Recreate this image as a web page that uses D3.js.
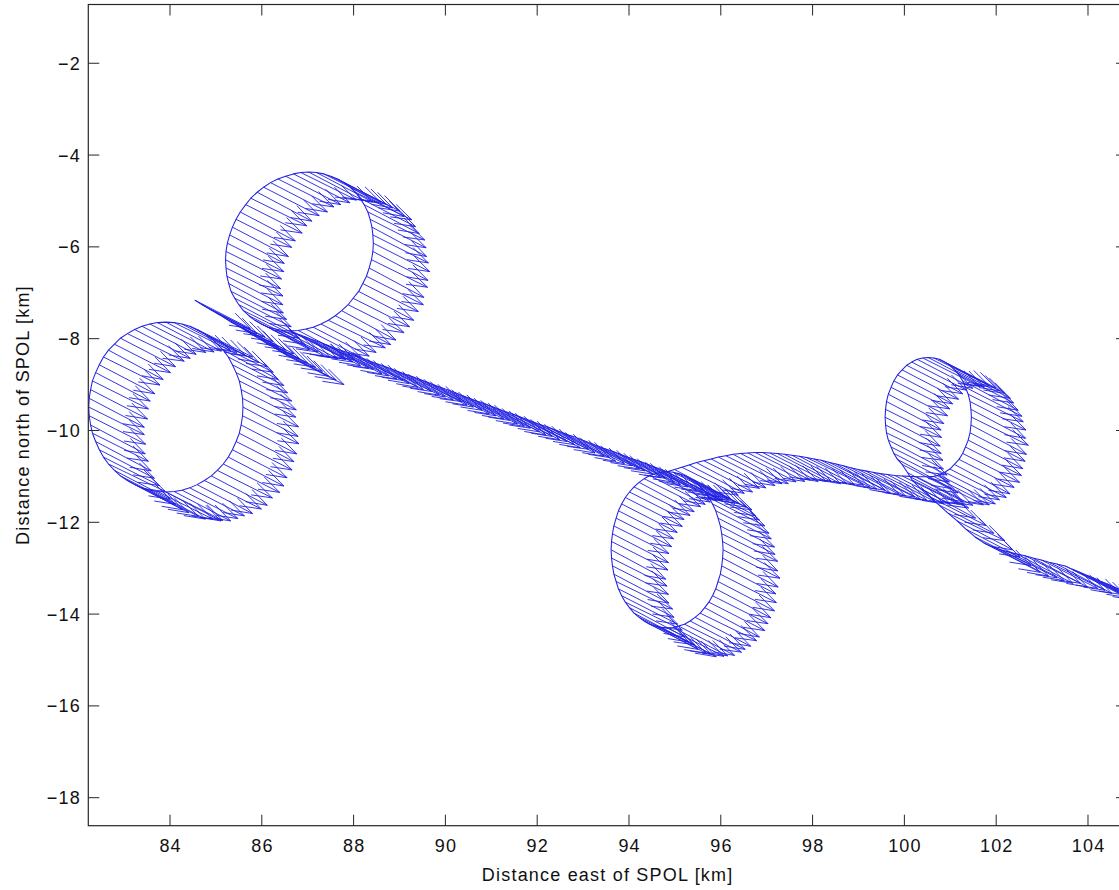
<!DOCTYPE html>
<html><head><meta charset="utf-8">
<script src="https://cdn.jsdelivr.net/npm/d3@7"></script>
<style>
html,body{margin:0;padding:0;background:#fff;}
svg{display:block;}
text{font-family:"Liberation Sans",Arial,Helvetica,sans-serif;fill:#111;}
</style></head><body>
<svg id="chart" width="1119" height="890"></svg>
<script>
// ---------------- data (km east / km north of SPOL, wind in m/s) ----------------
const xTicks = [84,86,88,90,92,94,96,98,100,102,104];
const yTicks = [-2,-4,-6,-8,-10,-12,-14,-16,-18];
const xTitle = "Distance east of SPOL [km]";
const yTitle = "Distance north of SPOL [km]";

// short initial track north-west of the figure eight
const startX = [84.54,84.70,84.85,85.01,85.16,85.32,85.48,85.63,85.79,85.94,86.10,86.26,86.41,86.57];
const startY = [-7.16,-7.26,-7.35,-7.44,-7.53,-7.63,-7.72,-7.81,-7.91,-8.00,-8.10,-8.19,-8.28,-8.38];
const startU = [12.1,12.0,12.2,12.3,11.9,12.1,12.2,12.0,12.1,12.3,12.2,12.0,12.1,12.2];
const startV = [-6.2,-6.3,-6.1,-6.2,-6.4,-6.2,-6.1,-6.3,-6.2,-6.2,-6.1,-6.3,-6.2,-6.2];

// lower loop of the figure eight
const loop2X = [83.91,83.73,83.56,83.39,83.23,83.07,82.92,82.79,82.66,82.55,
82.46,82.38,82.31,82.27,82.24,82.23,82.24,82.27,82.31,82.38,
82.46,82.55,82.66,82.79,82.92,83.07,83.23,83.39,83.56,83.73,
83.91,84.09,84.26,84.43,84.59,84.75,84.90,85.03,85.16,85.27,
85.36,85.44,85.51,85.55,85.58,85.59,85.58,85.55,85.51,85.44,
85.36,85.27,85.16,85.03,84.90,84.75,84.59,84.43,84.26,84.09,83.91];
const loop2Y = [-11.34,-11.33,-11.30,-11.25,-11.18,-11.09,-10.99,-10.87,-10.73,-10.58,
-10.42,-10.24,-10.06,-9.88,-9.68,-9.49,-9.30,-9.11,-8.92,-8.74,
-8.57,-8.40,-8.25,-8.12,-7.99,-7.89,-7.80,-7.73,-7.68,-7.65,
-7.64,-7.65,-7.68,-7.73,-7.80,-7.89,-7.99,-8.12,-8.25,-8.40,
-8.57,-8.74,-8.92,-9.11,-9.30,-9.49,-9.68,-9.88,-10.06,-10.24,
-10.42,-10.58,-10.73,-10.87,-10.99,-11.09,-11.18,-11.25,-11.30,-11.33,-11.34];
const loop2U = [12.4,12.0,12.1,12.3,11.8,12.2,12.0,12.1,12.4,12.2,
12.0,12.1,12.2,11.9,12.3,12.1,12.0,12.4,12.2,11.9,
12.1,12.3,11.9,12.2,12.0,12.4,12.1,11.8,12.2,12.3,
12.1,12.3,12.0,12.2,12.1,11.9,12.3,12.2,12.0,12.1,
12.0,12.1,12.4,11.9,12.2,12.0,12.3,12.1,11.9,12.2,
11.9,12.1,12.3,12.0,12.2,12.4,12.1,11.9,12.2,12.3,12.0];
const loop2V = [-6.2,-6.0,-6.3,-6.2,-6.1,-6.4,-6.2,-6.3,-6.0,-6.2,
-6.2,-6.4,-6.1,-6.3,-6.2,-6.0,-6.3,-6.4,-6.1,-6.2,
-6.3,-6.1,-6.4,-6.2,-6.2,-6.0,-6.3,-6.1,-6.2,-6.4,
-6.3,-6.1,-6.2,-6.4,-6.0,-6.3,-6.2,-6.1,-6.4,-6.2,
-6.1,-6.2,-6.3,-6.0,-6.2,-6.4,-6.1,-6.3,-6.2,-6.2,
-6.1,-6.3,-6.2,-6.0,-6.4,-6.2,-6.3,-6.1,-6.2,-6.4,-6.3];

// upper loop of the figure eight (flown anticlockwise, leaves heading east)
const loop1X = [86.62,86.79,86.96,87.12,87.29,87.45,87.60,87.74,87.88,87.99,
88.11,88.20,88.28,88.34,88.39,88.42,88.43,88.42,88.40,88.36,
88.31,88.23,88.14,88.04,87.92,87.79,87.65,87.50,87.35,87.19,
87.02,86.85,86.69,86.52,86.35,86.19,86.04,85.90,85.76,85.65,
85.53,85.44,85.36,85.30,85.25,85.22,85.21,85.22,85.24,85.28,
85.33,85.41,85.50,85.60,85.72,85.85,85.99,86.14,86.30,86.45,86.62];
const loop1Y = [-7.83,-7.82,-7.79,-7.75,-7.68,-7.60,-7.50,-7.39,-7.26,-7.12,
-6.97,-6.80,-6.64,-6.46,-6.28,-6.10,-5.92,-5.74,-5.57,-5.40,
-5.24,-5.08,-4.94,-4.81,-4.70,-4.60,-4.52,-4.46,-4.41,-4.38,
-4.37,-4.38,-4.41,-4.46,-4.52,-4.60,-4.70,-4.81,-4.94,-5.08,
-5.24,-5.40,-5.57,-5.74,-5.92,-6.10,-6.28,-6.46,-6.64,-6.80,
-6.97,-7.12,-7.26,-7.39,-7.50,-7.60,-7.68,-7.75,-7.79,-7.82,-7.83];
const loop1U = [12.1,12.3,11.9,12.2,12.0,12.4,12.1,11.8,12.2,12.3,
12.0,12.1,12.4,11.9,12.2,12.0,12.3,12.1,11.9,12.2,
12.4,12.0,12.1,12.3,11.8,12.2,12.0,12.1,12.4,12.2,
11.9,12.1,12.3,12.0,12.2,12.4,12.1,11.9,12.2,12.3,
12.0,12.1,12.2,11.9,12.3,12.1,12.0,12.4,12.2,11.9,
12.1,12.3,12.0,12.2,12.1,11.9,12.3,12.2,12.0,12.1,12.1];
const loop1V = [-6.2,-6.4,-6.1,-6.3,-6.2,-6.0,-6.3,-6.4,-6.1,-6.2,
-6.3,-6.1,-6.2,-6.4,-6.0,-6.3,-6.2,-6.1,-6.4,-6.2,
-6.1,-6.3,-6.2,-6.0,-6.4,-6.2,-6.3,-6.1,-6.2,-6.4,
-6.2,-6.0,-6.3,-6.2,-6.1,-6.4,-6.2,-6.3,-6.0,-6.2,
-6.3,-6.1,-6.4,-6.2,-6.2,-6.0,-6.3,-6.1,-6.2,-6.4,
-6.1,-6.2,-6.3,-6.0,-6.2,-6.4,-6.1,-6.3,-6.2,-6.2,-6.2];

// long leg towards the third loop
const legX = [86.78,86.94,87.09,87.25,87.40,87.56,87.71,87.87,88.02,88.18,
88.33,88.49,88.64,88.80,88.95,89.11,89.26,89.42,89.58,89.73,
89.89,90.04,90.20,90.35,90.51,90.66,90.82,90.97,91.13,91.28,
91.44,91.59,91.75,91.90,92.06,92.22,92.37,92.53,92.68,92.84,
92.99,93.15,93.30,93.46,93.61,93.77,93.92,94.08,94.23,94.39,
94.54,94.70];
const legY = [-7.90,-7.96,-8.02,-8.07,-8.13,-8.19,-8.25,-8.30,-8.36,-8.42,
-8.48,-8.54,-8.59,-8.65,-8.71,-8.77,-8.82,-8.88,-8.94,-9.00,
-9.06,-9.11,-9.17,-9.23,-9.29,-9.35,-9.40,-9.46,-9.52,-9.58,
-9.63,-9.69,-9.75,-9.81,-9.87,-9.92,-9.98,-10.04,-10.10,-10.15,
-10.21,-10.27,-10.33,-10.39,-10.44,-10.50,-10.56,-10.62,-10.67,-10.73,
-10.79,-10.85];
const legU = [12.0,12.1,12.4,11.9,12.2,12.0,12.3,12.1,11.9,12.2,
11.9,12.1,12.3,12.0,12.2,12.4,12.1,11.9,12.2,12.3,
12.1,12.3,12.0,12.2,12.1,11.9,12.3,12.2,12.0,12.1,
12.1,12.3,11.9,12.2,12.0,12.4,12.1,11.8,12.2,12.3,
12.4,12.0,12.1,12.3,11.8,12.2,12.0,12.1,12.4,12.2,
12.0,12.1];
const legV = [-6.1,-6.3,-6.2,-6.0,-6.4,-6.2,-6.3,-6.1,-6.2,-6.4,
-6.3,-6.1,-6.4,-6.2,-6.2,-6.0,-6.3,-6.1,-6.2,-6.4,
-6.2,-6.4,-6.1,-6.3,-6.2,-6.0,-6.3,-6.4,-6.1,-6.2,
-6.1,-6.2,-6.3,-6.0,-6.2,-6.4,-6.1,-6.3,-6.2,-6.2,
-6.3,-6.1,-6.2,-6.4,-6.0,-6.3,-6.2,-6.1,-6.4,-6.2,
-6.2,-6.0];

// third loop
const loop3X = [94.83,94.96,95.08,95.21,95.33,95.44,95.55,95.65,95.74,95.82,
95.89,95.94,95.99,96.02,96.04,96.05,96.04,96.02,95.99,95.94,
95.89,95.82,95.74,95.65,95.55,95.44,95.33,95.21,95.08,94.96,
94.83,94.70,94.58,94.45,94.33,94.22,94.11,94.01,93.92,93.84,
93.77,93.72,93.67,93.64,93.62,93.61,93.62,93.64,93.67,93.72,
93.77,93.84,93.92,94.01,94.11,94.22,94.33,94.45,94.58,94.70,94.83];
const loop3Y = [-10.90,-10.91,-10.94,-10.98,-11.05,-11.13,-11.23,-11.34,-11.46,-11.60,
-11.75,-11.91,-12.08,-12.25,-12.42,-12.60,-12.78,-12.95,-13.13,-13.29,
-13.45,-13.60,-13.74,-13.86,-13.98,-14.07,-14.15,-14.22,-14.26,-14.29,
-14.30,-14.29,-14.26,-14.22,-14.15,-14.07,-13.98,-13.86,-13.74,-13.60,
-13.45,-13.29,-13.13,-12.95,-12.78,-12.60,-12.42,-12.25,-12.08,-11.91,
-11.75,-11.60,-11.46,-11.34,-11.23,-11.13,-11.05,-10.98,-10.94,-10.91,-10.90];
const loop3U = [11.9,12.1,12.3,12.0,12.2,12.4,12.1,11.9,12.2,12.3,
12.1,12.3,11.9,12.2,12.0,12.4,12.1,11.8,12.2,12.3,
12.0,12.1,12.2,11.9,12.3,12.1,12.0,12.4,12.2,11.9,
12.4,12.0,12.1,12.3,11.8,12.2,12.0,12.1,12.4,12.2,
12.1,12.3,12.0,12.2,12.1,11.9,12.3,12.2,12.0,12.1,
12.0,12.1,12.4,11.9,12.2,12.0,12.3,12.1,11.9,12.2,12.2];
const loop3V = [-6.3,-6.1,-6.4,-6.2,-6.2,-6.0,-6.3,-6.1,-6.2,-6.4,
-6.1,-6.3,-6.2,-6.0,-6.4,-6.2,-6.3,-6.1,-6.2,-6.4,
-6.3,-6.1,-6.2,-6.4,-6.0,-6.3,-6.2,-6.1,-6.4,-6.2,
-6.2,-6.4,-6.1,-6.3,-6.2,-6.0,-6.3,-6.4,-6.1,-6.2,
-6.2,-6.0,-6.3,-6.2,-6.1,-6.4,-6.2,-6.3,-6.0,-6.2,
-6.1,-6.2,-6.3,-6.0,-6.2,-6.4,-6.1,-6.3,-6.2,-6.2,-6.2];

// leg between the third and fourth loops
const leg2X = [94.99,95.15,95.31,95.47,95.63,95.79,95.95,96.11,96.27,96.43,
96.59,96.75,96.91,97.07,97.23,97.39,97.55,97.71,97.87,98.03,
98.19,98.35,98.51,98.67,98.83,98.99,99.15,99.31,99.47,99.63,
99.79,99.95,100.11,100.27];
const leg2Y = [-10.85,-10.80,-10.75,-10.70,-10.66,-10.62,-10.58,-10.55,-10.52,-10.50,
-10.49,-10.48,-10.48,-10.49,-10.50,-10.52,-10.54,-10.56,-10.59,-10.62,
-10.65,-10.69,-10.73,-10.77,-10.81,-10.85,-10.88,-10.91,-10.94,-10.96,
-10.98,-10.99,-11.00,-11.01];
const leg2U = [12.1,12.3,12.0,12.2,12.1,11.9,12.3,12.2,12.0,12.1,
12.4,12.0,12.1,12.3,11.8,12.2,12.0,12.1,12.4,12.2,
12.1,12.3,11.9,12.2,12.0,12.4,12.1,11.8,12.2,12.3,
12.1,12.3,12.0,12.2];
const leg2V = [-6.3,-6.1,-6.2,-6.4,-6.0,-6.3,-6.2,-6.1,-6.4,-6.2,
-6.2,-6.0,-6.3,-6.2,-6.1,-6.4,-6.2,-6.3,-6.0,-6.2,
-6.3,-6.1,-6.4,-6.2,-6.2,-6.0,-6.3,-6.1,-6.2,-6.4,
-6.2,-6.1,-6.3,-6.2];

// fourth loop
const loop4X = [100.52,100.64,100.76,100.88,100.99,101.09,101.19,101.27,101.33,101.39,
101.43,101.45,101.46,101.45,101.43,101.39,101.33,101.27,101.19,101.09,
100.99,100.88,100.76,100.64,100.52,100.40,100.28,100.16,100.05,99.95,
99.85,99.77,99.71,99.65,99.61,99.59,99.58,99.59,99.61,99.65,
99.71,99.77,99.85,99.95];
const loop4Y = [-11.01,-11.00,-10.97,-10.91,-10.84,-10.74,-10.63,-10.50,-10.36,-10.21,
-10.05,-9.88,-9.71,-9.54,-9.37,-9.21,-9.06,-8.92,-8.79,-8.68,
-8.58,-8.51,-8.45,-8.42,-8.41,-8.42,-8.45,-8.51,-8.58,-8.68,
-8.79,-8.92,-9.06,-9.21,-9.37,-9.54,-9.71,-9.88,-10.05,-10.21,
-10.36,-10.50,-10.63,-10.74];
const loop4U = [12.0,12.1,12.2,11.9,12.3,12.1,12.0,12.4,12.2,11.9,
12.0,12.1,12.4,11.9,12.2,12.0,12.3,12.1,11.9,12.2,
11.9,12.1,12.3,12.0,12.2,12.4,12.1,11.9,12.2,12.3,
12.0,12.2,12.3,12.1,11.9,12.2,12.0,12.1,12.3,12.0,
12.2,12.1,11.9,12.2];
const loop4V = [-6.1,-6.2,-6.3,-6.0,-6.2,-6.4,-6.1,-6.3,-6.2,-6.2,
-6.2,-6.4,-6.1,-6.3,-6.2,-6.0,-6.3,-6.4,-6.1,-6.2,
-6.1,-6.3,-6.2,-6.0,-6.4,-6.2,-6.3,-6.1,-6.2,-6.4,
-6.3,-6.1,-6.2,-6.4,-6.2,-6.1,-6.3,-6.2,-6.0,-6.3,
-6.1,-6.2,-6.4,-6.2];

// exit track to the east-south-east
const tailX = [100.07,100.17,100.36,100.56,100.75,100.95,101.15,101.34,101.54,101.73,
101.93,102.10,102.28,102.45,102.63,102.80,102.98,103.15,103.32,103.50,
103.65,103.80,103.96,104.11,104.26,104.41,104.57,104.72,104.87];
const tailY = [-10.92,-11.08,-11.27,-11.45,-11.62,-11.80,-11.97,-12.15,-12.32,-12.45,
-12.54,-12.60,-12.65,-12.69,-12.73,-12.78,-12.82,-12.87,-12.91,-12.95,
-13.02,-13.08,-13.15,-13.21,-13.28,-13.34,-13.41,-13.48,-13.54];
const tailU = [12.1,12.3,11.9,12.2,12.0,12.4,12.1,11.8,12.2,12.3,
12.1,12.3,12.0,12.2,12.1,11.9,12.3,12.2,12.0,12.1,
12.2,12.0,12.3,12.1,11.9,12.1,12.2,12.0,12.3];
const tailV = [-6.3,-6.1,-6.4,-6.2,-6.2,-6.0,-6.3,-6.1,-6.2,-6.4,
-6.3,-6.1,-6.2,-6.4,-6.0,-6.3,-6.2,-6.1,-6.4,-6.2,
-6.2,-6.1,-6.3,-6.2,-6.0,-6.2,-6.3,-6.1,-6.2];

// ---------------- rendering ----------------
const W = 1119, H = 890;
const plot = {left: 88.3, right: 1127, top: 4.5, bottom: 825.7};
const x = d3.scaleLinear().domain([82.22, 104.85]).range([plot.left, plot.right]);
const y = d3.scaleLinear().domain([-0.72, -18.61]).range([plot.top, plot.bottom]);
const vecScale = 0.1;          // km of arrow per m/s
const headLen = 0.33, headW = 0.33;
const ink = "#2020e2";

const svg = d3.select("#chart");
svg.append("rect").attr("width", W).attr("height", H).attr("fill", "#fff");

svg.append("defs").append("clipPath").attr("id", "clip")
  .append("rect").attr("x", plot.left).attr("y", plot.top)
  .attr("width", plot.right - plot.left).attr("height", plot.bottom - plot.top);

const segments = [
  [[startX, startY, startU, startV]],
  [[loop2X, loop2Y, loop2U, loop2V]],
  [[loop1X, loop1Y, loop1U, loop1V], [legX, legY, legU, legV], [loop3X, loop3Y, loop3U, loop3V],
   [leg2X, leg2Y, leg2U, leg2V], [loop4X, loop4Y, loop4U, loop4V], [tailX, tailY, tailU, tailV]]
];

const g = svg.append("g").attr("clip-path", "url(#clip)");
const line = d3.line().x(d => x(d.x)).y(d => y(d.y));

let arrows = "";
segments.forEach(parts => {
  const pts = [];
  parts.forEach(([X, Y, U, V]) => {
    const n = Math.min(X.length, Y.length, U.length, V.length);
    for (let i = 0; i < n; i++) pts.push({x: X[i], y: Y[i], u: U[i], v: V[i]});
  });
  g.append("path").attr("d", line(pts)).attr("fill", "none")
    .attr("stroke", ink).attr("stroke-width", 1.05).attr("stroke-linejoin", "round");
  pts.forEach(p => {
    const du = p.u * vecScale, dv = p.v * vecScale;
    const tx = p.x + du, ty = p.y + dv;
    const h1x = tx - headLen * (du + headW * dv), h1y = ty - headLen * (dv - headW * du);
    const h2x = tx - headLen * (du - headW * dv), h2y = ty - headLen * (dv + headW * du);
    arrows += `M${x(p.x).toFixed(2)},${y(p.y).toFixed(2)}L${x(tx).toFixed(2)},${y(ty).toFixed(2)}`;
    arrows += `M${x(h1x).toFixed(2)},${y(h1y).toFixed(2)}L${x(tx).toFixed(2)},${y(ty).toFixed(2)}L${x(h2x).toFixed(2)},${y(h2y).toFixed(2)}`;
  });
});
g.append("path").attr("d", arrows).attr("fill", "none")
  .attr("stroke", ink).attr("stroke-width", 1).attr("stroke-opacity", 0.9);

// axes box
const axisColor = "#262626";
const ax = svg.append("g");
ax.append("rect").attr("x", plot.left).attr("y", plot.top)
  .attr("width", plot.right - plot.left).attr("height", plot.bottom - plot.top)
  .attr("fill", "none").attr("stroke", axisColor).attr("stroke-width", 1.2);

const tickLen = 11;
xTicks.forEach(t => {
  const px = x(t);
  ax.append("line").attr("x1", px).attr("x2", px).attr("y1", plot.bottom).attr("y2", plot.bottom - tickLen)
    .attr("stroke", axisColor).attr("stroke-width", 1);
  ax.append("line").attr("x1", px).attr("x2", px).attr("y1", plot.top).attr("y2", plot.top + tickLen)
    .attr("stroke", axisColor).attr("stroke-width", 1);
  ax.append("text").attr("x", px + 0.6).attr("y", 852).attr("text-anchor", "middle")
    .attr("font-size", 18).attr("letter-spacing", "1.2px").text(String(t));
});
yTicks.forEach(t => {
  const py = y(t);
  ax.append("line").attr("x1", plot.left).attr("x2", plot.left + tickLen).attr("y1", py).attr("y2", py)
    .attr("stroke", axisColor).attr("stroke-width", 1);
  ax.append("line").attr("x1", plot.right).attr("x2", plot.right - tickLen).attr("y1", py).attr("y2", py)
    .attr("stroke", axisColor).attr("stroke-width", 1);
  ax.append("text").attr("x", 81).attr("y", py + 6.5).attr("text-anchor", "end")
    .attr("font-size", 18).attr("letter-spacing", "1.2px").text("\u2212" + Math.abs(t));
});

svg.append("text").attr("x", (plot.left + plot.right) / 2).attr("y", 881)
  .attr("text-anchor", "middle").attr("font-size", 18).attr("letter-spacing", "1.2px").text(xTitle);
svg.append("text").attr("transform", `translate(29,${(plot.top + plot.bottom) / 2}) rotate(-90)`)
  .attr("text-anchor", "middle").attr("font-size", 18).attr("letter-spacing", "1.2px").text(yTitle);
</script>
</body></html>
